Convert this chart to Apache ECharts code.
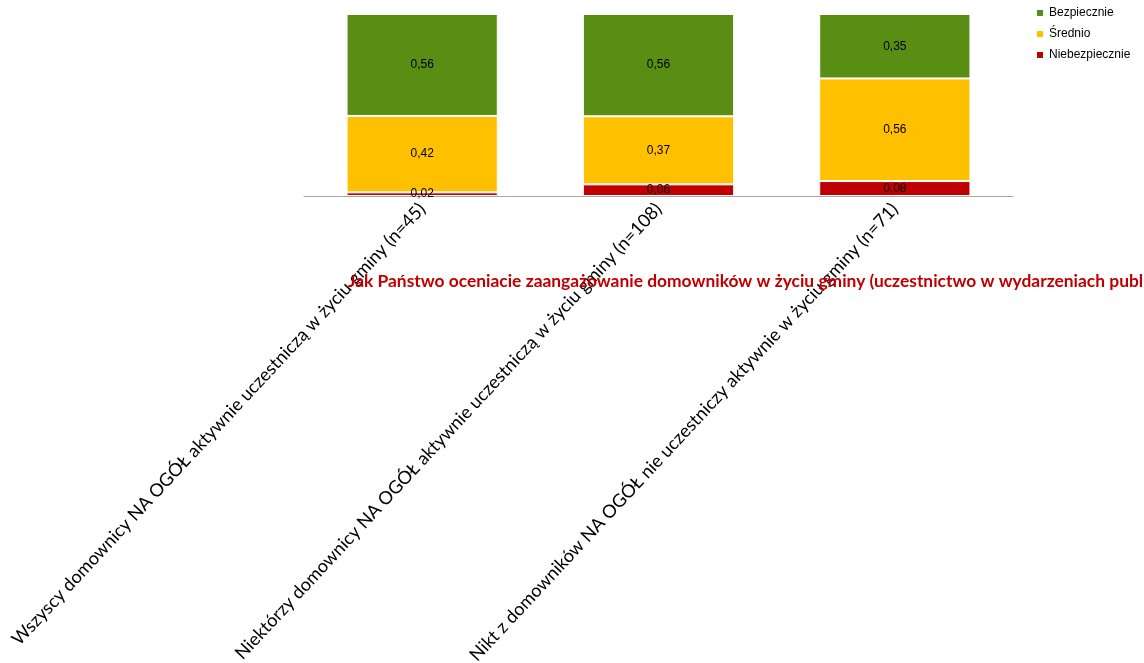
<!DOCTYPE html>
<html><head><meta charset="utf-8">
<script src="https://cdn.jsdelivr.net/npm/echarts@6/dist/echarts.min.js"></script>
<style>html,body{margin:0;padding:0;background:#fff}#c{width:1144px;height:663px}</style>
</head><body><div id="c"></div>
<script>
const categories = [
  "Wszyscy domownicy NA OGÓŁ aktywnie uczestniczą w życiu gminy (n=45)",
  "Niektórzy domownicy NA OGÓŁ aktywnie uczestniczą w życiu gminy (n=108)",
  "Nikt z domowników NA OGÓŁ nie uczestniczy aktywnie w życiu gminy (n=71)"
];
const niebezpiecznie = [0.02, 0.064, 0.082];
const srednio = [0.42, 0.374, 0.564];
const bezpiecznie = [0.56, 0.562, 0.354];
const titleText = "Jak Państwo oceniacie zaangażowanie domowników w życiu gminy (uczestnictwo w wydarzeniach publicznych)";

const chart = echarts.init(document.getElementById('c'), null, {renderer: 'canvas'});
const lbl = {
  show: true, position: 'inside', color: '#000', fontFamily: 'Liberation Sans, Arial', fontSize: 12,
  formatter: p => p.value.toFixed(2).replace('.', ',')
};
function s(name, data, color) {
  return {
    name, type: 'bar', stack: 'a', data, barWidth: '64%',
    itemStyle: {color, borderColor: '#fff', borderWidth: 1},
    label: lbl, emphasis: {disabled: true}
  };
}
chart.setOption({
  animation: false,
  title: {
    text: titleText, left: 343, top: 268,
    textStyle: {color: '#C00000', fontSize: 17.4, fontWeight: 'bold', fontFamily: 'Lato'}
  },
  legend: {
    orient: 'vertical', left: 1030, top: 2, itemWidth: 8, itemHeight: 8, itemGap: 9,
    icon: 'rect',
    textStyle: {fontFamily: 'Liberation Sans, Arial', fontSize: 12, color: '#000'},
    data: ['Bezpiecznie', 'Średnio', 'Niebezpiecznie']
  },
  grid: {left: 304, right: 131, top: 14, bottom: 467, containLabel: false, outerBoundsMode: 'none'},
  xAxis: {
    type: 'category', data: categories,
    axisLine: {lineStyle: {color: '#A6A6A6'}}, axisTick: {show: false},
    axisLabel: {rotate: 47, interval: 0, fontFamily: 'Lato', fontSize: 18.1, color: '#000', margin: 10}
  },
  yAxis: {type: 'value', min: 0, max: 1, show: false, splitLine: {show: false}},
  series: [
    s('Niebezpiecznie', niebezpiecznie, '#C00000'),
    s('Średnio', srednio, '#FFC000'),
    s('Bezpiecznie', bezpiecznie, '#5A8D13')
  ]
});
</script></body></html>
